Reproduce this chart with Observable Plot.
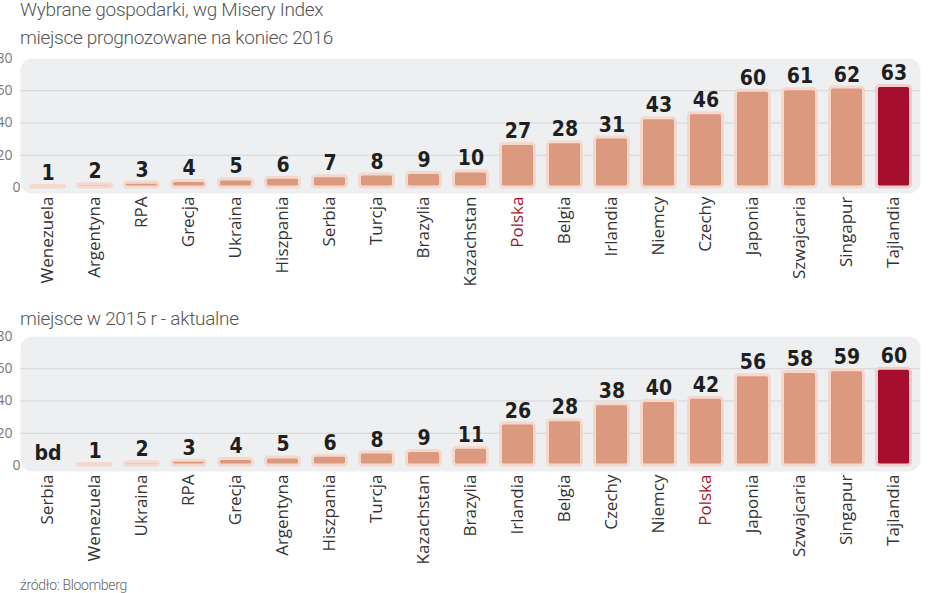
<!DOCTYPE html>
<html>
<head>
<meta charset="utf-8">
<script src="https://cdn.jsdelivr.net/npm/d3@7"></script>
<script src="https://cdn.jsdelivr.net/npm/@observablehq/plot@0.6"></script>
<style>
  html, body { margin: 0; padding: 0; background: #fff; }
  body { width: 948px; height: 593px; position: relative; overflow: hidden; }
  .t { position: absolute; left: 20px; font-family: Roboto, sans-serif; color: #555; white-space: nowrap; font-weight: 300; letter-spacing: -0.3px; }
  .p { position: absolute; left: 0; }
</style>
</head>
<body>
<div class="t" id="title" style="top:-1px;font-size:19px;line-height:22px;">Wybrane gospodarki, wg Misery Index</div>
<div class="t" id="sub1" style="top:27px;font-size:19px;line-height:22px;">miejsce prognozowane na koniec 2016</div>
<div class="p" id="chart1" style="top:50px;"></div>
<div class="t" id="sub2" style="top:308px;font-size:19px;line-height:22px;">miejsce w 2015 r - aktualne</div>
<div class="p" id="chart2" style="top:328px;"></div>
<div class="t" id="src" style="top:576px;font-size:14px;line-height:18px;color:#666;">źródło: Bloomberg</div>
<script>
// Data
const countries2016 = ["Wenezuela","Argentyna","RPA","Grecja","Ukraina","Hiszpania","Serbia","Turcja","Brazylia","Kazachstan","Polska","Belgia","Irlandia","Niemcy","Czechy","Japonia","Szwajcaria","Singapur","Tajlandia"];
const values2016 = [1,2,3,4,5,6,7,8,9,10,27,28,31,43,46,60,61,62,63];
const countries2015 = ["Serbia","Wenezuela","Ukraina","RPA","Grecja","Argentyna","Hiszpania","Turcja","Kazachstan","Brazylia","Irlandia","Belgia","Czechy","Niemcy","Polska","Japonia","Szwajcaria","Singapur","Tajlandia"];
const values2015 = [null,1,2,3,4,5,6,8,9,11,26,28,38,40,42,56,58,59,60];
const yTicks = [0,20,40,60,80];
const missingLabel = "bd";

const BAR = "#db9a80", BAR_HI = "#a50f2d", POL = "#a5122b";

function makeChart(countries, values, height, marginBottom) {
  const data = countries.map((c, i) => ({c, v: values[i]}));
  return Plot.plot({
    width: 948,
    height,
    marginTop: 8,
    marginBottom,
    marginLeft: 20,
    marginRight: 28,
    style: {fontFamily: "'Open Sans', sans-serif", background: "transparent", overflow: "visible"},
    x: {domain: countries, paddingInner: 0.22, paddingOuter: 0.118, axis: null},
    y: {domain: [0, 80], axis: null},
    marks: [
      Plot.frame({fill: "#eeeff1", stroke: null, rx: 12, insetBottom: -6}),
      Plot.gridY({ticks: yTicks.filter(t => t > 0 && t < 80), stroke: "#d4d5d8", strokeOpacity: 1}),
      Plot.axisY({ticks: yTicks.filter(t => t > 0), tickSize: 0, tickPadding: 8, fill: "#777", fontSize: 14, label: null}),
      Plot.axisY({ticks: yTicks.filter(t => t === 0), tickSize: 0, tickPadding: 0, fill: "#777", fontSize: 14, label: null}),
      Plot.barY(data, {
        x: "c", y: "v",
        fill: d => d.c === "Tajlandia" ? BAR_HI : BAR,
        stroke: d => d.c === "Tajlandia" ? "#f1cdd0" : "#f5d8cd",
        strokeWidth: 3, rx: 3, insetLeft: 1.5, insetRight: 1.5
      }),
      Plot.text(data, {
        x: "c", y: d => d.v ?? 0,
        text: d => d.v ?? missingLabel,
        dy: -6, lineAnchor: "bottom",
        fontSize: 21, fontWeight: "bold",
        fontFamily: "'DejaVu Sans Condensed', sans-serif",
        fill: "#1f1f1f"
      }),
      Plot.text(data, {
        x: "c", y: d => 0,
        text: "c", rotate: -90, textAnchor: "end",
        dy: 9, fontSize: 17,
        fill: d => d.c === "Polska" ? POL : "#333"
      })
    ]
  });
}

document.getElementById("chart1").appendChild(makeChart(countries2016, values2016, 250, 113));
document.getElementById("chart2").appendChild(makeChart(countries2015, values2015, 245, 108));
</script>
</body>
</html>
